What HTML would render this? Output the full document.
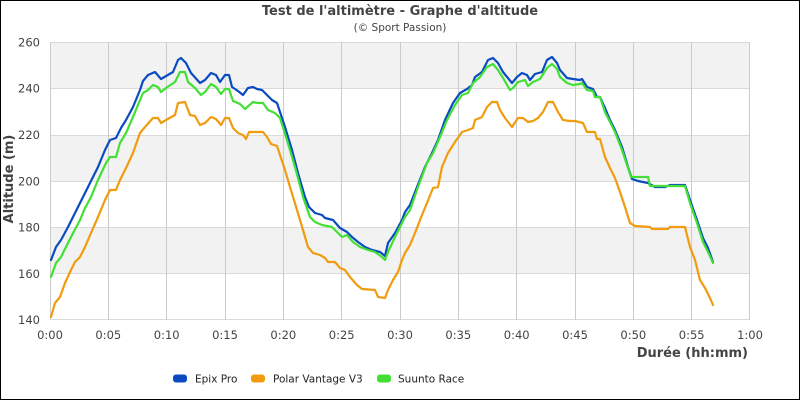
<!DOCTYPE html>
<html><head><meta charset="utf-8"><style>
html,body{margin:0;padding:0;background:#fff;}
svg{display:block;}
text{font-family:"DejaVu Sans","Liberation Sans",sans-serif;}
</style></head><body>
<svg width="800" height="400" viewBox="0 0 800 400" xmlns="http://www.w3.org/2000/svg">
<rect x="0.5" y="0.5" width="799" height="399" fill="#fff" stroke="#000" stroke-width="1"/>
<text x="400" y="15" text-anchor="middle" font-size="13" font-weight="bold" fill="#444">Test de l'altimètre - Graphe d'altitude</text>
<text x="400" y="31" text-anchor="middle" font-size="10.5" fill="#444">(© Sport Passion)</text>
<!-- bands -->
<rect x="50" y="42" width="700" height="46.5" fill="#f2f2f2"/>
<rect x="50" y="135" width="700" height="46.5" fill="#f2f2f2"/>
<rect x="50" y="227.5" width="700" height="46.3" fill="#f2f2f2"/>
<g stroke="#dadada" stroke-width="1">
<line x1="50" y1="42.5" x2="750" y2="42.5"/>
<line x1="50" y1="88.5" x2="750" y2="88.5"/>
<line x1="50" y1="135.5" x2="750" y2="135.5"/>
<line x1="50" y1="181.5" x2="750" y2="181.5"/>
<line x1="50" y1="227.5" x2="750" y2="227.5"/>
<line x1="50" y1="273.5" x2="750" y2="273.5"/>
<line x1="50" y1="319.5" x2="750" y2="319.5"/>
</g>
<g stroke="#cbcbcb" stroke-width="1">
<line x1="50.5" y1="42" x2="50.5" y2="320"/>
<line x1="108.5" y1="42" x2="108.5" y2="320"/>
<line x1="166.5" y1="42" x2="166.5" y2="320"/>
<line x1="225.5" y1="42" x2="225.5" y2="320"/>
<line x1="283.5" y1="42" x2="283.5" y2="320"/>
<line x1="341.5" y1="42" x2="341.5" y2="320"/>
<line x1="400.5" y1="42" x2="400.5" y2="320"/>
<line x1="458.5" y1="42" x2="458.5" y2="320"/>
<line x1="516.5" y1="42" x2="516.5" y2="320"/>
<line x1="575.5" y1="42" x2="575.5" y2="320"/>
<line x1="633.5" y1="42" x2="633.5" y2="320"/>
<line x1="691.5" y1="42" x2="691.5" y2="320"/>
<line x1="749.5" y1="42" x2="749.5" y2="320"/>
</g>
<!-- y labels -->
<g font-size="11.5" fill="#444" text-anchor="end">
<text x="40" y="46.5">260</text>
<text x="40" y="92.5">240</text>
<text x="40" y="139">220</text>
<text x="40" y="185.5">200</text>
<text x="40" y="231.5">180</text>
<text x="40" y="278">160</text>
<text x="40" y="324">140</text>
</g>
<text transform="translate(13,179) rotate(-90)" text-anchor="middle" font-size="13" font-weight="bold" fill="#444">Altitude (m)</text>
<!-- x labels -->
<g font-size="11.5" fill="#444" text-anchor="middle">
<text x="50" y="339">0:00</text>
<text x="108.3" y="339">0:05</text>
<text x="166.7" y="339">0:10</text>
<text x="225" y="339">0:15</text>
<text x="283.3" y="339">0:20</text>
<text x="341.7" y="339">0:25</text>
<text x="400" y="339">0:30</text>
<text x="458.3" y="339">0:35</text>
<text x="516.7" y="339">0:40</text>
<text x="575" y="339">0:45</text>
<text x="633.3" y="339">0:50</text>
<text x="691.7" y="339">0:55</text>
<text x="750" y="339">1:00</text>
</g>
<text x="748" y="357" text-anchor="end" font-size="13" font-weight="bold" fill="#444">Durée (hh:mm)</text>
<!-- series -->
<g fill="none" stroke-width="2.2" stroke-linejoin="round" stroke-linecap="round">
<polyline stroke="#0a4cc0" points="51,260 56,247 61,240 68,227 78,207 88,187 98,167 105,150 110,140 116,138 121,128 126,120 133,107 140,90 143,81 148,75 155,72 161,79 173,72 178,60 181,58 186,63 191,73 200,83 205,80 211,73 216,75 220,82 225,75 229,75 232,87 238,91 243,95 248,88 253,87 257,89 262,90 267,95 272,100 277,103 280,112 285,127 292,150 298,173 305,197 309,207 315,213 322,215 325,218 333,220 340,228 347,232 352,237 358,242 365,247 372,250 380,252 385,256 388,243 395,233 402,220 405,212 410,205 417,187 425,167 432,153 438,140 445,120 453,103 460,93 467,89 472,85 475,77 482,72 488,60 493,58 498,63 503,72 512,83 517,77 522,73 527,75 530,80 535,74 542,72 547,60 552,57 557,63 560,70 567,78 573,79 580,80 582,79 587,87 593,89 597,97 600,97 605,108 610,120 615,130 622,147 628,167 632,179 638,181 648,183 655,187 665,187 670,185 685,185 690,200 697,220 703,238 708,248 713,262"/>
<polyline stroke="#f09c0e" points="51,317 55,303 60,297 65,283 71,270 75,262 80,257 85,247 91,233 98,217 105,200 110,190 116,190 120,180 126,168 133,153 140,133 145,127 153,118 158,118 161,123 166,120 175,115 178,103 185,102 190,115 195,116 200,125 205,123 211,117 216,119 221,125 225,118 229,118 233,128 238,133 243,135 246,139 249,132 263,132 267,137 271,144 277,146 280,155 285,170 290,187 297,210 303,230 308,247 313,253 320,255 325,258 328,262 335,262 340,268 345,270 350,277 357,285 362,289 375,290 378,297 385,298 388,290 393,280 398,272 402,260 405,253 410,245 415,233 422,215 427,203 433,188 438,187 442,167 448,153 455,142 462,132 468,130 473,128 475,120 482,117 487,107 492,102 497,102 500,110 505,118 512,127 518,118 523,118 528,122 533,121 538,118 543,112 548,102 553,102 558,112 563,120 570,121 575,121 583,123 587,132 595,132 597,139 600,139 605,157 610,168 615,178 620,192 625,207 630,223 635,226 650,227 652,229 668,229 670,227 685,227 690,247 695,260 700,280 705,288 710,298 713,305"/>
<polyline stroke="#42e035" points="51,277 56,263 61,257 71,237 80,220 85,208 91,197 98,180 106,163 110,157 116,157 120,143 126,133 133,117 140,100 143,93 148,90 153,85 158,87 161,92 166,88 175,82 180,72 185,72 188,82 195,88 201,95 205,92 211,84 216,87 221,94 225,89 229,89 233,101 240,104 245,109 253,102 258,103 263,103 268,110 275,113 280,118 287,140 295,167 303,197 310,217 315,222 322,225 332,227 337,232 342,237 347,235 353,242 360,247 368,250 375,252 382,257 385,260 388,252 395,237 402,223 405,217 410,210 418,187 427,163 433,153 440,137 447,120 455,105 462,95 468,93 473,83 480,77 487,67 493,64 498,70 503,78 510,90 513,88 518,82 525,80 528,86 533,82 540,79 547,68 552,64 557,69 560,77 567,83 573,85 580,84 582,83 587,90 593,91 595,97 600,97 605,112 610,122 615,132 622,150 628,168 631,177 648,177 650,186 685,186 690,203 697,223 703,242 708,252 713,263"/>
</g>
<!-- legend -->
<rect x="173" y="374.5" width="14" height="8" rx="3" fill="#0a4cc0"/>
<text x="195" y="382.5" font-size="10.5" fill="#222">Epix Pro</text>
<rect x="251" y="374.5" width="14" height="8" rx="3" fill="#f09c0e"/>
<text x="273" y="382.5" font-size="10.5" fill="#222">Polar Vantage V3</text>
<rect x="377" y="374.5" width="14" height="8" rx="3" fill="#42e035"/>
<text x="398" y="382.5" font-size="10.5" fill="#222">Suunto Race</text>
</svg>
</body></html>
